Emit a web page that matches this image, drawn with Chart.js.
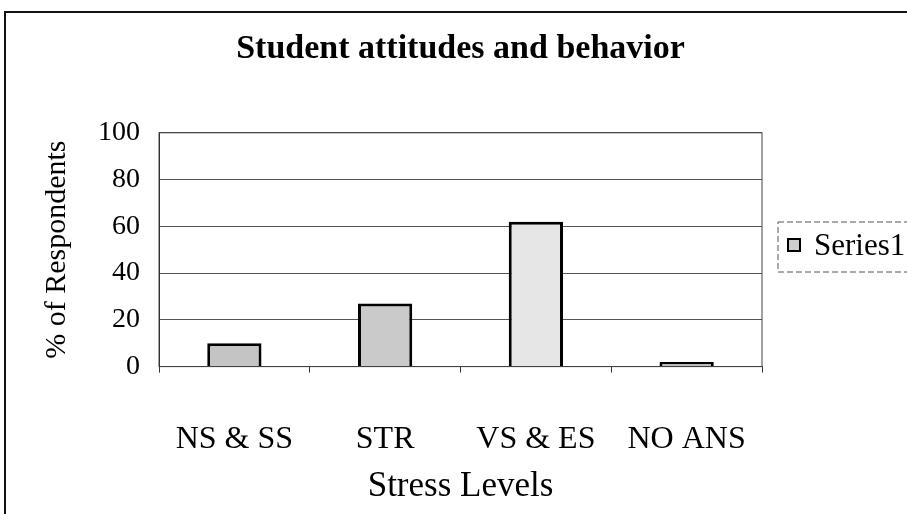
<!DOCTYPE html>
<html>
<head>
<meta charset="utf-8">
<script src="https://cdn.jsdelivr.net/npm/chart.js@4"></script>
<style>
  html, body { margin: 0; padding: 0; background: #fff; }
  #wrap { width: 907px; height: 514px; position: relative; }
</style>
</head>
<body>
<div id="wrap"><canvas id="stressChart"></canvas></div>
<script>
(function(){
    const categories = ["NS & SS", "STR", "VS & ES", "NO ANS"];
    const series1 = [10, 27, 62, 2];
    const yTicks = [0, 20, 40, 60, 80, 100];
    const seriesName = "Series1";

    const serif = "'Liberation Serif', 'DejaVu Serif', serif";

    // frame around the whole chart + boxed legend on the right
    const framePlugin = {
        id: "frame",
        afterDraw(chart) {
            const ctx = chart.ctx;
            const area = chart.chartArea;
            ctx.save();
            ctx.strokeStyle = "#111";
            ctx.lineWidth = 2;
            ctx.beginPath();
            ctx.moveTo(5, 520);
            ctx.lineTo(5, 12);
            ctx.lineTo(910, 12);
            ctx.stroke();

            // plot border
            ctx.strokeStyle = "#444";
            ctx.lineWidth = 1;
            ctx.strokeRect(area.left, area.top, area.right - area.left, area.bottom - area.top);

            // legend
            ctx.strokeStyle = "#555";
            ctx.setLineDash([6, 3]);
            ctx.strokeRect(778, 222, 140, 50);
            ctx.setLineDash([]);
            ctx.fillStyle = "#cfcfcf";
            ctx.fillRect(788, 239, 12, 12);
            ctx.strokeStyle = "#000";
            ctx.lineWidth = 2;
            ctx.strokeRect(788, 239, 12, 12);
            ctx.fillStyle = "#000";
            ctx.font = "31px " + serif;
            ctx.textBaseline = "middle";
            ctx.fillText(seriesName, 814, 247);
            ctx.restore();
        }
    };

    const ctx = document.getElementById("stressChart");
    new Chart(ctx, {
        type: "bar",
        data: {
            labels: categories,
            datasets: [
                {
                    label: seriesName,
                    data: series1,
                    backgroundColor: ["#c4c4c4", "#cacaca", "#e6e6e6", "#bbbbbb"],
                    borderColor: "#000",
                    borderWidth: 3,
                    barPercentage: 0.36,
                    categoryPercentage: 1,
                },
            ],
        },
        options: {
            responsive: true,
            maintainAspectRatio: false,
            animation: false,
            layout: {
                padding: { left: 30, right: 145, top: 0, bottom: 6 },
            },
            plugins: {
                legend: { display: false },
                tooltip: { enabled: false },
                title: {
                    display: true,
                    fullSize: false,
                    text: "Student attitudes and behavior",
                    color: "#000",
                    font: { family: serif, size: 34, weight: "bold" },
                    padding: { top: 29, bottom: 63 },
                },
            },
            scales: {
                x: {
                    grid: {
                        drawOnChartArea: false,
                        drawTicks: true,
                        tickLength: 6,
                        color: "#333",
                    },
                    border: { color: "#333" },
                    ticks: {
                        color: "#000",
                        font: { family: serif, size: 32 },
                        padding: 48,
                        maxRotation: 0,
                        autoSkip: false,
                    },
                    title: {
                        display: true,
                        text: "Stress Levels",
                        color: "#000",
                        font: { family: serif, size: 35 },
                        padding: { top: -41, bottom: 0 },
                    },
                },
                y: {
                    min: 0,
                    max: 100,
                    afterBuildTicks(scale) {
                        scale.ticks = yTicks.map(v => ({ value: v }));
                    },
                    afterFit(scale) {
                        scale.width = 129;
                    },
                    grid: {
                        color: "#555",
                        drawTicks: false,
                    },
                    border: { color: "#222", width: 1 },
                    ticks: {
                        color: "#000",
                        font: { family: serif, size: 28 },
                        padding: 19,
                    },
                    title: {
                        display: true,
                        text: "% of Respondents",
                        color: "#000",
                        font: { family: serif, size: 30 },
                        padding: { top: 9, bottom: 0 },
                    },
                },
            },
        },
        plugins: [framePlugin],
    });
})()
</script>
</body>
</html>
